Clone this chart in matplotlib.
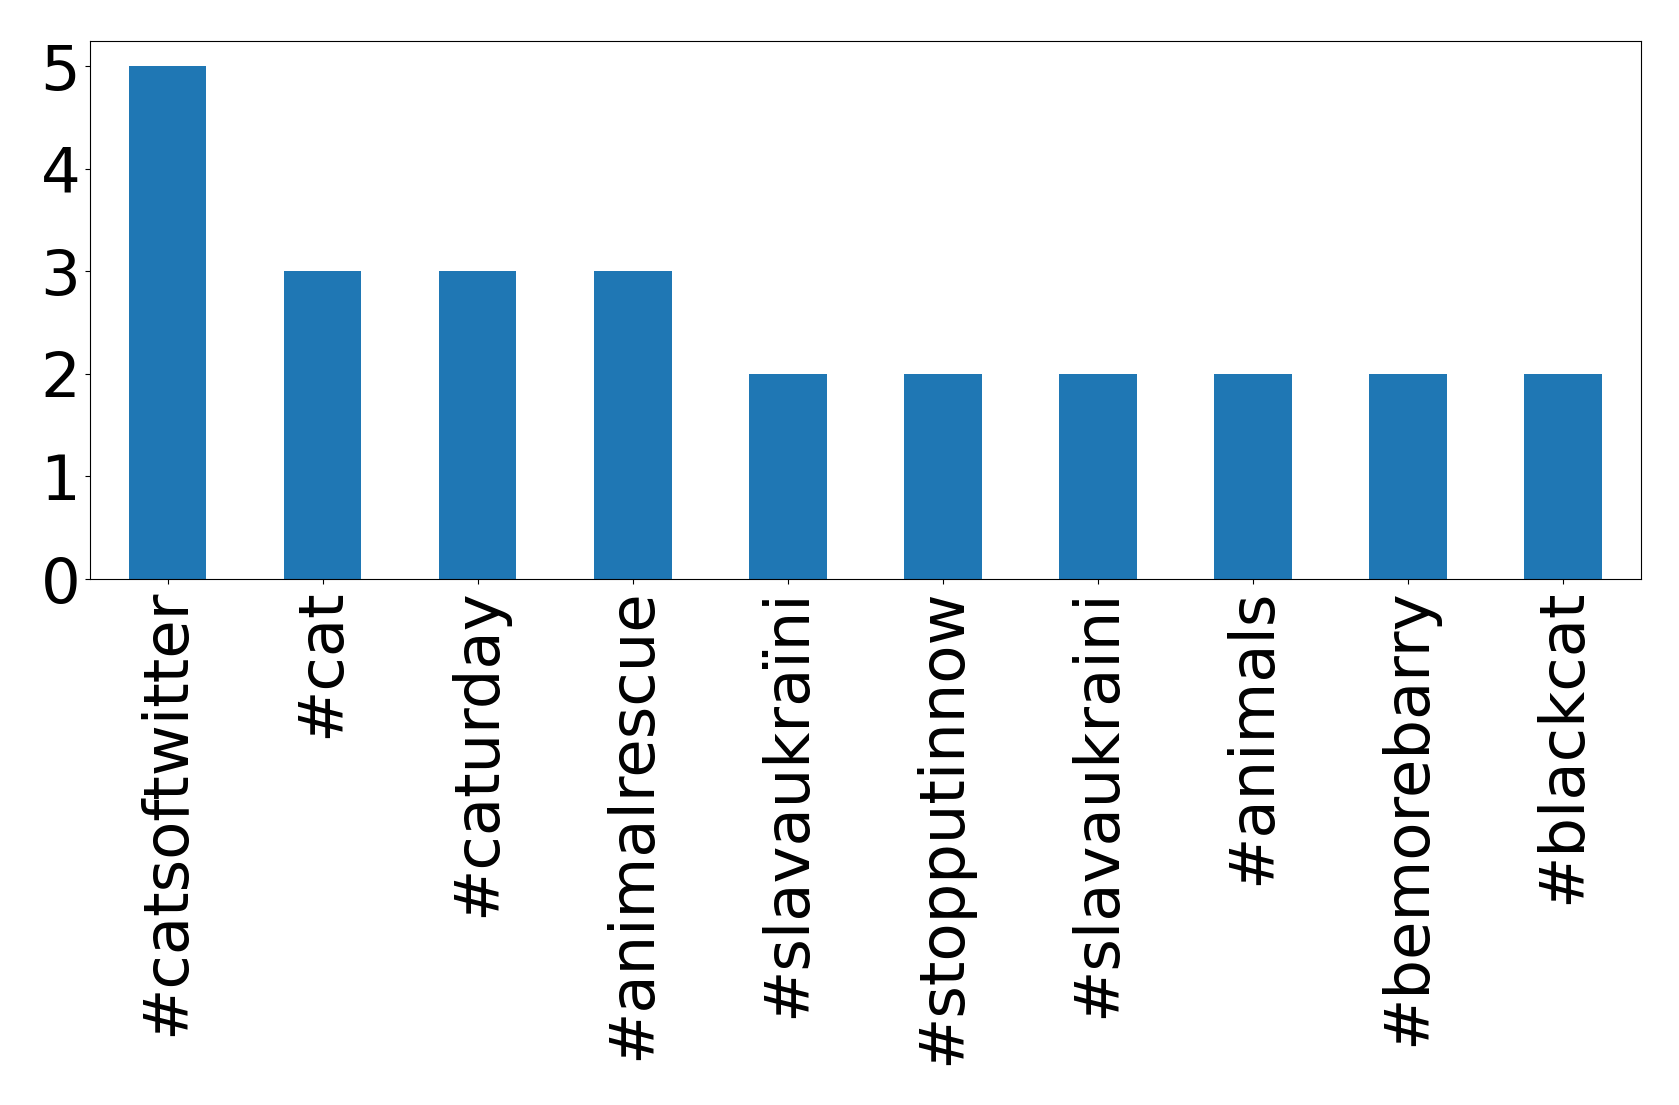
import matplotlib
matplotlib.use('Agg')
import matplotlib.pyplot as plt
import numpy as np

hashtags = ['#catsoftwitter', '#cat', '#caturday', '#animalrescue', '#slavaukraïni',
            '#stopputinnow', '#slavaukraini', '#animals', '#bemorebarry', '#blackcat']
counts = [5, 3, 3, 3, 2, 2, 2, 2, 2, 2]

fig = plt.figure(figsize=(16.79, 11.05), dpi=100)
ax = fig.add_axes([0.0536, 0.476, 0.9236, 0.4872])

x = np.arange(len(hashtags))
ax.bar(x, counts, width=0.5, color='#1f77b4')
ax.set_xlim(-0.5, len(hashtags) - 0.5)
ax.set_ylim(0, max(counts) * 1.05)
ax.set_xticks(x)
ax.set_xticklabels(hashtags, rotation=90)
ax.set_yticks(range(0, 6))
ax.tick_params(axis='both', labelsize=45)

fig.savefig('out.png', dpi=100)
